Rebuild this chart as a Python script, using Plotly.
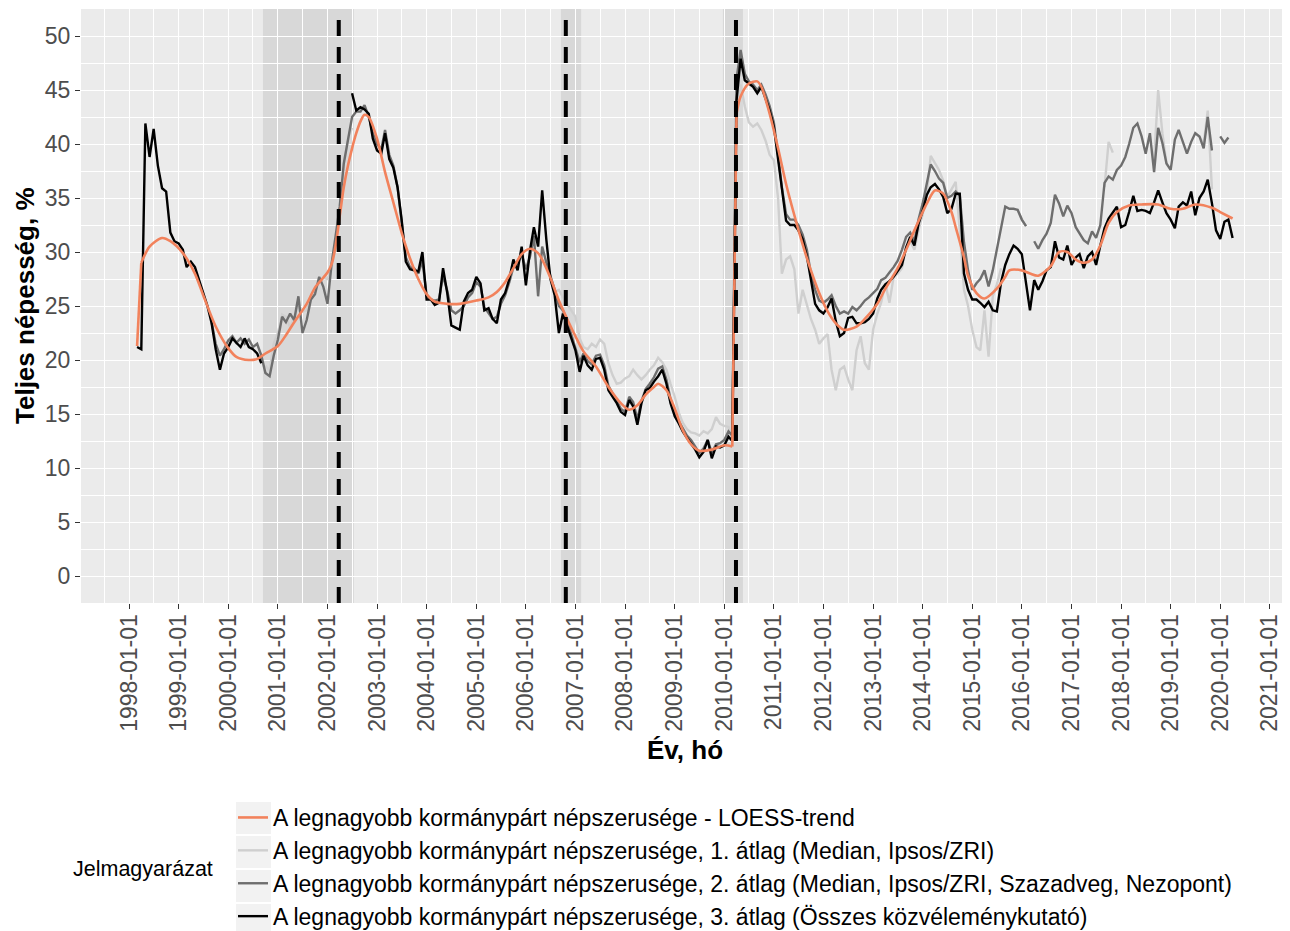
import pandas as pd
import plotly.graph_objects as go

N = None

# Monthly grid: 1998-03 .. 2020-04 (266 months)
months = pd.date_range("1998-03-01", "2020-04-01", freq="MS")

# Series 3: all pollsters (black)
avg3 = [
    21.2, 21.0, 41.9, 38.8, 41.4, 38.0, 35.9, 35.6, 31.8, 31.0,                 # 1998 Mar-Dec
    30.8, 30.2, 28.6, 29.1, 28.6, 27.4, 26.3, 25.0, 23.4, 21.0, 19.1, 20.6,     # 1999
    21.2, 22.0, 21.6, 21.2, 22.0, 21.2, 21.0, 20.6, 19.7, N, N, N,             # 2000
    N, N, N, N, N, N, N, N, N, N, N, N,                                         # 2001
    N, N, N, N, N, N, 44.7, 43.1, 43.4, 43.2, 42.8, 40.5,                       # 2002
    39.4, 39.1, 41.0, 38.6, 37.8, 36.0, 33.0, 29.1, 28.4, 28.3, 28.2, 30.0,     # 2003
    25.6, 25.6, 25.1, 25.3, 28.5, 26.2, 23.2, 23.0, 22.8, 25.4, 26.2, 26.5,     # 2004
    27.7, 27.1, 24.6, 24.8, 23.8, 23.4, 25.6, 26.2, 27.5, 29.3, 28.3, 30.5,     # 2005
    26.9, 30.2, 32.3, 30.5, 35.7, 31.1, 27.5, 26.0, 22.5, 24.3, 23.1, 22.0,     # 2006
    20.9, 18.9, 20.4, 19.5, 19.1, 20.1, 20.2, 19.1, 17.2, 16.6, 16.0, 15.2,     # 2007
    14.9, 16.3, 15.7, 14.0, 16.0, 17.2, 17.4, 18.0, 18.5, 19.1, 17.8, 16.0,     # 2008
    14.8, 14.1, 13.4, 12.8, 12.3, 11.7, 11.0, 11.5, 12.6, 10.9, 12.0, 11.9,     # 2009
    12.1, 12.9, 12.5, 44.0, 47.9, 45.9, 45.6, 45.3, 44.7, 45.3, 44.2, 43.1,     # 2010
    41.6, 38.5, 35.5, 32.9, 32.5, 32.5, 32.0, 31.2, 29.6, 27.5, 25.2, 24.6,     # 2011
    24.3, 24.9, 25.7, 23.6, 22.2, 22.5, 23.9, 24.0, 23.4, 23.4, 23.5, 23.8,     # 2012
    24.3, 25.7, 26.5, 27.0, 27.3, 27.7, 28.2, 28.8, 30.4, 31.4, 30.6, 32.6,     # 2013
    33.8, 35.3, 36.0, 36.3, 35.8, 35.1, 33.6, 34.0, 35.4, 35.4, 28.0, 26.5,     # 2014
    25.6, 25.6, 25.3, 24.9, 25.4, 24.6, 24.5, 27.2, 28.8, 29.8, 30.6, 30.3,     # 2015
    29.8, 27.1, 24.6, 27.4, 26.5, 27.3, 28.3, 28.6, 31.0, 29.5, 29.3, 30.6,     # 2016
    28.8, 29.5, 29.8, 28.5, 29.6, 30.0, 28.8, 30.6, 32.2, 33.1, 33.7, 34.2,     # 2017
    32.3, 32.5, 33.7, 35.2, 33.8, 33.9, 33.8, 33.6, 34.6, 35.7, 34.6, 33.6,     # 2018
    33.0, 32.2, 34.2, 34.6, 34.3, 35.6, 33.4, 35.0, 35.6, 36.7, 34.5, 32.0,     # 2019
    31.2, 32.8, 33.0, 31.3,                                                     # 2020 Jan-Apr
]

# Series 2: Median, Ipsos/ZRI, Szazadveg, Nezopont (dark grey)
avg2 = [
    N, N, N, N, N, N, N, N, N, N,                                               # 1998
    N, N, N, N, N, N, N, N, 23.5, 21.5, 20.4, 21.0,                             # 1999
    21.8, 22.2, 21.6, 22.0, 21.5, 21.9, 21.2, 21.5, 20.4, 18.8, 18.5, 20.4,     # 2000
    21.9, 24.0, 23.5, 24.3, 23.7, 25.9, 22.5, 23.7, 25.6, 26.1, 27.7, 26.8,     # 2001
    25.2, 29.0, 31.4, 34.2, 38.2, 40.4, 42.5, 43.0, 43.0, 43.6, 42.5, 41.0,     # 2002
    40.0, 39.5, 41.3, 39.0, 38.0, 36.0, 33.0, 29.5, 28.6, 28.5, 28.0, 29.2,     # 2003
    26.0, 25.6, 25.5, 25.6, 27.8, 26.4, 24.6, 24.3, 24.6, 25.0, 25.8, 26.2,     # 2004
    27.2, 26.8, 24.9, 24.3, 23.8, 24.0, 25.2, 26.0, 27.2, 28.6, 28.9, 29.8,     # 2005
    28.4, 29.6, 31.5, 25.9, 30.5, 29.0, 27.8, 26.5, 25.0, 24.6, 23.6, 22.3,     # 2006
    21.2, 19.8, 20.6, 19.9, 19.6, 20.4, 20.5, 19.5, 17.6, 16.9, 16.3, 15.5,     # 2007
    15.2, 16.6, 16.1, 14.5, 16.2, 17.3, 17.8, 18.4, 19.2, 19.4, 18.2, 16.4,     # 2008
    15.0, 14.3, 13.6, 13.0, 12.6, 12.0, 11.4, 11.8, 12.6, 11.4, 12.2, 12.3,     # 2009
    12.6, 13.4, 13.0, 46.0, 48.7, 46.5, 45.8, 45.5, 45.0, 45.5, 44.6, 43.5,     # 2010
    42.0, 39.0, 36.0, 33.5, 33.0, 33.0, 32.5, 31.6, 30.2, 28.0, 26.5, 25.5,     # 2011
    25.3, 25.6, 26.0, 25.0, 24.3, 24.5, 24.3, 24.9, 24.6, 25.0, 25.5, 25.8,     # 2012
    26.2, 26.6, 27.4, 27.6, 28.1, 28.6, 29.2, 30.2, 31.4, 31.8, 31.0, 33.0,     # 2013
    34.5, 36.5, 38.1, 37.5, 36.8, 36.4, 35.0, 35.2, 35.6, 35.2, 30.9, 28.3,     # 2014
    26.5, 27.1, 27.5, 28.3, 26.8, 28.3, 30.2, 32.5, 34.2, 34.0, 34.0, 33.9,     # 2015
    33.0, 32.4, N, 31.0, 30.3, 31.1, 31.7, 32.7, 35.3, 34.5, 33.3, 34.3,        # 2016
    33.6, 32.3, 31.7, 31.1, 30.8, 31.9, 31.3, 32.5, 36.4, 37.0, 36.7, 37.6,     # 2017
    38.0, 38.8, 40.0, 41.5, 41.9, 40.7, 39.1, 41.0, 37.4, 41.5, 40.1, 38.2,     # 2018
    37.6, 40.4, 41.3, 40.2, 39.1, 40.2, 41.0, 40.7, 39.6, 42.5, 39.4, N,        # 2019
    40.7, 40.1, 40.6, N,                                                        # 2020
]

# Series 1: Median, Ipsos/ZRI (light grey)
avg1 = [
    N, N, N, N, N, N, N, N, N, N,                                               # 1998
    N, N, N, N, N, N, N, N, N, N, N, N,                                         # 1999
    N, N, N, N, N, N, N, N, N, 19.5, 19.0, 21.5,                                # 2000
    22.5, 24.2, 24.0, 23.0, 24.0, 25.0, 24.5, 24.6, 25.8, 26.5, 27.2, 27.6,     # 2001
    27.5, 28.5, 30.5, 33.5, 38.0, 40.5, 41.5, N, N, N, N, N,                    # 2002
    N, N, N, N, N, N, N, N, N, N, N, N,                                         # 2003
    N, N, N, N, N, N, N, N, N, N, N, N,                                         # 2004
    N, N, N, N, N, N, N, N, N, N, N, N,                                         # 2005
    N, N, N, N, N, 29.0, 27.8, 26.3, 26.5, 25.8, 25.2, 24.6,                    # 2006
    24.0, 22.0, 21.2, 21.0, 21.5, 21.2, 21.9, 21.5, 19.7, 18.6, 17.8, 17.9,     # 2007
    18.3, 18.5, 19.1, 18.6, 18.2, 18.6, 19.1, 19.5, 20.2, 19.8, 19.1, 17.8,     # 2008
    16.6, 15.1, 14.2, 13.6, 13.3, 13.2, 13.0, 13.4, 13.2, 13.6, 14.7, 14.1,     # 2009
    13.9, 13.8, 12.8, 42.0, 45.5, 43.5, 42.0, 41.6, 41.9, 41.3, 40.3, 39.0,     # 2010
    38.5, 35.0, 28.0, 29.3, 29.6, 28.4, 24.3, 26.5, 25.0, 23.8, 22.8, 21.5,     # 2011
    22.0, 22.4, 19.1, 17.2, 19.1, 19.4, 18.2, 17.2, 20.9, 22.2, 19.7, 19.1,     # 2012
    22.8, 24.3, 25.3, 27.1, 25.3, 27.7, 28.0, 28.5, 30.5, 31.0, 30.2, 32.0,     # 2013
    33.5, 35.5, 38.9, 38.2, 37.6, 36.6, 35.1, 35.8, 36.5, 32.0, 26.5, 25.0,     # 2014
    22.8, 21.2, 20.9, 24.6, 20.3, 25.9, 27.0, 28.5, N, N, N, 33.9,              # 2015
    33.0, 32.4, N, N, N, N, N, N, N, N, N, N,                                   # 2016
    N, N, N, N, N, N, N, N, 36.0, 40.2, 39.2, N,                                # 2017
    N, N, N, N, N, N, N, N, 38.5, 45.0, 41.0, 38.2,                             # 2018
    N, N, N, N, N, N, N, 40.7, 40.0, 43.1, 35.8, N,                             # 2019
    N, N, N, N,                                                                 # 2020
]

# LOESS trend (orange)
loess_dates = [
    "1998-03-01", "1998-04-01", "1998-06-01", "1998-09-01", "1998-11-01", "1999-02-01",
    "1999-05-01", "1999-07-01", "1999-10-01", "2000-01-01", "2000-03-01", "2000-06-01",
    "2000-08-01", "2000-10-01", "2001-01-01", "2001-03-01", "2001-05-01", "2001-08-01",
    "2001-10-01", "2002-01-01", "2002-02-01", "2002-03-01", "2002-04-01", "2002-05-01",
    "2002-06-01", "2002-07-01", "2002-08-01", "2002-09-01", "2002-10-01", "2002-11-01",
    "2003-01-01", "2003-03-01", "2003-05-01", "2003-07-01", "2003-09-01", "2003-11-01",
    "2004-01-01", "2004-03-01", "2004-06-01", "2004-09-01", "2005-01-01", "2005-04-01",
    "2005-06-01", "2005-08-01", "2005-10-01", "2005-12-01", "2006-02-01", "2006-04-01",
    "2006-05-01", "2006-07-01", "2006-09-01", "2006-11-01", "2007-01-01", "2007-03-01",
    "2007-06-01", "2007-09-01", "2007-12-01", "2008-02-01", "2008-04-01", "2008-06-01",
    "2008-08-01", "2008-09-01", "2008-11-01", "2009-01-01", "2009-03-01", "2009-05-01",
    "2009-07-01", "2009-10-01", "2010-01-01", "2010-03-01",
    "2010-04-01", "2010-05-01", "2010-07-01", "2010-09-01", "2010-10-01", "2010-12-01",
    "2011-02-01", "2011-04-01", "2011-06-01", "2011-08-01", "2011-10-01", "2011-12-01",
    "2012-02-01", "2012-04-01", "2012-06-01", "2012-09-01", "2012-11-01", "2013-02-01",
    "2013-04-01", "2013-07-01", "2013-09-01", "2013-11-01", "2014-02-01", "2014-04-01",
    "2014-06-01", "2014-08-01", "2014-09-01", "2014-11-01", "2014-12-01", "2015-02-01",
    "2015-04-01", "2015-07-01", "2015-09-01", "2015-10-01", "2016-01-01", "2016-03-01",
    "2016-05-01", "2016-08-01", "2016-10-01", "2016-12-01", "2017-02-01", "2017-04-01",
    "2017-06-01", "2017-08-01", "2017-10-01", "2017-12-01", "2018-03-01", "2018-06-01",
    "2018-10-01", "2019-01-01", "2019-04-01", "2019-07-01", "2019-11-01", "2020-01-01",
    "2020-04-01",
]
loess_vals = [
    21.3, 29.0, 30.5, 31.3, 31.0, 29.9,
    28.0, 26.0, 23.1, 21.1, 20.3, 20.0,
    20.1, 20.6, 21.3, 22.3, 23.5, 25.2,
    26.7, 28.1, 28.9, 30.5, 33.3, 36.0,
    38.0, 39.6, 41.0, 42.1, 42.7, 42.5,
    40.5, 37.4, 34.6, 31.8, 29.4, 27.5,
    26.1, 25.4, 25.2, 25.2, 25.5, 25.8,
    26.3, 27.2, 28.5, 29.8, 30.3, 29.9,
    29.3, 27.6, 25.5, 23.8, 22.2, 20.8,
    19.4, 17.5, 16.0, 15.4, 15.8, 16.8,
    17.5, 17.8, 17.2, 15.5, 13.5, 12.2,
    11.6, 11.7, 12.1, 12.0,
    42.8, 44.4, 45.6, 45.8, 45.3, 42.8,
    39.6, 36.3, 33.4, 30.7, 28.3, 26.2,
    24.5, 23.4, 22.8, 23.1, 23.8, 25.2,
    26.6, 28.5, 30.2, 32.0, 34.5, 35.7,
    35.4, 33.7, 32.3, 29.5, 27.8, 26.2,
    25.7, 26.6, 27.7, 28.3, 28.3, 28.0,
    27.8, 28.7, 30.0, 30.0, 29.3, 29.0,
    29.3, 30.6, 32.7, 33.7, 34.3, 34.4,
    34.4, 34.0, 34.0, 34.4, 34.1, 33.7,
    33.1,
]

# Shaded periods and event lines
shade_starts = ["2000-09-13", "2006-09-16", "2009-12-22"]
shade_ends = ["2002-07-14", "2007-02-12", "2010-05-18"]
event_dates = ["2002-03-25", "2006-10-22", "2010-03-28"]

names = [
    "A legnagyobb kormánypárt népszerusége - LOESS-trend",
    "A legnagyobb kormánypárt népszerusége, 1. átlag (Median, Ipsos/ZRI)",
    "A legnagyobb kormánypárt népszerusége, 2. átlag (Median, Ipsos/ZRI, Szazadveg, Nezopont)",
    "A legnagyobb kormánypárt népszerusége, 3. átlag (Összes közvéleménykutató)",
]
col_loess = "#F2825C"
col1 = "#CFCFCF"
col2 = "#6E6E6E"
col3 = "#000000"

assert len(avg1) == len(months) == len(avg2) == len(avg3)
assert len(loess_dates) == len(loess_vals)

fig = go.Figure()

fig.add_trace(go.Scatter(x=months, y=avg1, mode="lines", name=names[1],
                         line=dict(color=col1, width=2.4), legendgroup="g1",
                         legendrank=2, connectgaps=False))
fig.add_trace(go.Scatter(x=months, y=avg2, mode="lines", name=names[2],
                         line=dict(color=col2, width=2.4), legendgroup="g2",
                         legendrank=3, connectgaps=False))
fig.add_trace(go.Scatter(x=months, y=avg3, mode="lines", name=names[3],
                         line=dict(color=col3, width=2.4), legendgroup="g3",
                         legendrank=4, connectgaps=False))

# LOESS trend drawn in pieces (smooth parts + jumps)
j = loess_dates.index("2010-04-01")
pieces = [
    (0, 2, "linear"),
    (1, j, "spline"),
    (j - 1, j + 1, "linear"),
    (j, len(loess_dates), "spline"),
]
for k, (a, b, shape) in enumerate(pieces):
    fig.add_trace(go.Scatter(
        x=loess_dates[a:b], y=loess_vals[a:b], mode="lines", name=names[0],
        line=dict(color=col_loess, width=2.6, shape=shape, smoothing=0.8),
        legendgroup="g0", legendrank=1, showlegend=(k == 1)))

shapes = []
for s, e in zip(shade_starts, shade_ends):
    shapes.append(dict(type="rect", xref="x", yref="paper", x0=s, x1=e, y0=0, y1=1,
                       fillcolor="rgba(120,120,120,0.16)", line=dict(width=0),
                       layer="between"))
for d in event_dates:
    shapes.append(dict(type="line", xref="x", yref="paper", x0=d, x1=d, y0=0, y1=1,
                       line=dict(color="black", width=4, dash="16px,11px"),
                       layer="above"))

# helpers: page pixel -> paper coordinates (plot panel spans x 81..1288, y 9..603 on the page)
H = 594.0
def py(p):
    return (603 - p) / H
def px(p):
    return (p - 81) / 1207.0

# legend key backgrounds
for r in range(4):
    top = 801 + 34 * r
    shapes.append(dict(type="rect", xref="paper", yref="paper",
                       x0=px(236), x1=px(271), y0=py(top + 33), y1=py(top + 1),
                       fillcolor="#F2F2F2", line=dict(width=0), layer="below"))

# The page body has an 8px margin, so the figure is offset by 8px.
fig.update_layout(
    width=1282, height=923,
    margin=dict(l=73, r=2, t=1, b=328, autoexpand=False),
    paper_bgcolor="white",
    plot_bgcolor="#EBEBEB",
    font=dict(family="Liberation Sans, Arial, sans-serif", color="#4D4D4D"),
    shapes=shapes,
    showlegend=True,
    legend=dict(
        x=px(233), y=py(796), xanchor="left", yanchor="top",
        orientation="v", bgcolor="rgba(0,0,0,0)", borderwidth=0,
        font=dict(size=23, color="#000000", family="Liberation Sans, Arial, sans-serif"),
        tracegroupgap=4, itemwidth=30, traceorder="normal",
    ),
    annotations=[
        dict(text="Teljes népesség, %", xref="paper", yref="paper",
             x=px(25), y=0.5, textangle=-90, showarrow=False,
             xanchor="center", yanchor="middle",
             font=dict(size=26, color="black", weight="bold")),
        dict(text="Év, hó", xref="paper", yref="paper",
             x=0.5, y=py(750), showarrow=False, xanchor="center", yanchor="middle",
             font=dict(size=26, color="black", weight="bold")),
        dict(text="Jelmagyarázat", xref="paper", yref="paper",
             x=px(71), y=py(869), showarrow=False, xanchor="left", yanchor="middle",
             font=dict(size=21.5, color="black")),
    ],
)

fig.update_xaxes(
    type="date",
    range=["1997-01-12", "2021-05-14"],
    tickmode="linear", tick0="1998-01-01", dtick="M12",
    tickformat="%Y-%m-%d", tickangle=-90,
    tickfont=dict(size=23, color="#4D4D4D"),
    ticks="outside", ticklen=5, tickwidth=1.3, tickcolor="#333333",
    ticklabelstandoff=-4,
    showgrid=True, gridcolor="white", gridwidth=1.4,
    minor=dict(dtick="M6", tick0="1998-01-01", showgrid=True,
               gridcolor="white", gridwidth=0.7, ticks=""),
    zeroline=False, showline=False,
)
fig.update_yaxes(
    range=[-2.5, 52.5],
    tickmode="linear", tick0=0, dtick=5,
    tickfont=dict(size=23, color="#4D4D4D"),
    ticks="outside", ticklen=5, tickwidth=1.3, tickcolor="#333333",
    showgrid=True, gridcolor="white", gridwidth=1.4,
    minor=dict(dtick=2.5, tick0=0, showgrid=True, gridcolor="white",
               gridwidth=0.7, ticks=""),
    zeroline=False, showline=False,
)

fig.write_html("out.html")
